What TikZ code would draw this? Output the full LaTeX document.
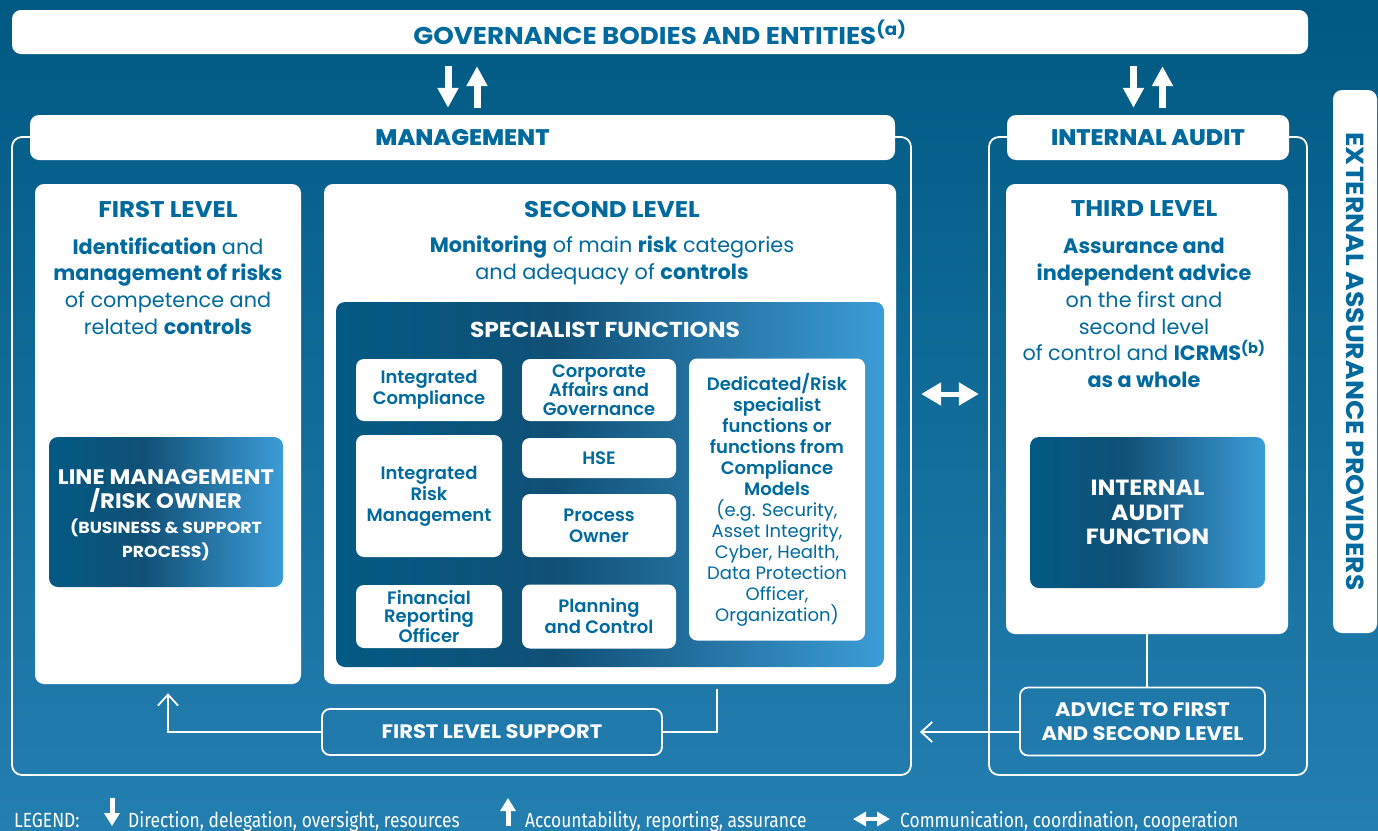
\documentclass[tikz,border=0pt]{standalone}
\usepackage{fontspec}
\setmainfont{Poppins}
\newfontfamily\widefont{Poppins}[FakeStretch=1.08]
\newfontfamily\semib{Poppins SemiBold}
\newfontfamily\heavy{Poppins ExtraBold}[FakeStretch=1.05]
\newfontfamily\legendfont{Fira Sans}[FakeStretch=0.85]
\usetikzlibrary{arrows.meta}

\definecolor{bgtop}{RGB}{0,89,130}
\definecolor{bgbot}{RGB}{36,127,177}
\definecolor{textblue}{RGB}{0,106,158}
\definecolor{shA}{RGB}{2,90,132}
\definecolor{shB}{RGB}{16,80,118}
\definecolor{shC}{RGB}{60,156,214}
\pgfdeclarehorizontalshading{levelshade}{100bp}{color(0bp)=(shA); color(25bp)=(shA); color(45bp)=(shB); color(75bp)=(shC); color(100bp)=(shC)}
\newcommand{\regline}{\normalfont\fontsize{18}{21}\selectfont}
\newcommand{\smallcaps}{\widefont\bfseries\fontsize{16}{24.5}\selectfont}

\begin{document}
\begin{tikzpicture}[x=1pt,y=-1pt,
    panel/.style={fill=white, rounded corners=9pt, inner sep=0pt},
    frame/.style={draw=white, line width=1.8pt, rounded corners=10pt, inner sep=0pt},
    header/.style={panel, text=textblue, font=\heavy\fontsize{22.5}{24}\selectfont},
    title/.style={text=textblue, font=\widefont\bfseries\fontsize{22.7}{24}\selectfont},
    body/.style={text=textblue, align=center, font=\fontsize{20.8}{26.8}\selectfont},
    gradbox/.style={shading=levelshade, rounded corners=9pt, text=white, align=center, font=\widefont\bfseries\fontsize{21.5}{24.5}\selectfont},
    func/.style={panel, rounded corners=8pt, text=textblue, align=center, font=\semib\fontsize{18}{21}\selectfont},
    tight/.style={font=\semib\fontsize{18}{18.5}\selectfont},
    outline/.style={draw=white, line width=1.8pt, rounded corners=8pt, text=white, align=center, font=\widefont\bfseries\fontsize{19.5}{24}\selectfont},
    conn/.style={draw=white, line width=1.8pt},
    openarrow/.style={conn, -{Straight Barb[length=11pt,width=20pt,line width=1.8pt]}},
    bigarrow/.style={draw=white, line width=7pt, -{Triangle[length=20pt,width=20pt]}},
    dblarrow/.style={draw=white, line width=5pt, {Triangle[length=20pt,width=22pt]}-{Triangle[length=20pt,width=22pt]}},
    legend/.style={text=white, anchor=base west, inner sep=0pt, font=\legendfont\fontsize{20.5}{22}\selectfont},
    legarrow/.style={draw=white, line width=5pt, -{Triangle[length=13pt,width=15pt]}},
  ]
    \useasboundingbox (0,0) rectangle (1378,830);
    \shade[top color=bgtop, bottom color=bgbot] (0,0) rectangle (1378,830);

    % outer frames
    \node[frame, minimum width=899, minimum height=638] (mframe) at (461.5,456) {};
    \node[frame, minimum width=318, minimum height=638] (iaframe) at (1148,456) {};

    % top row
    \node[panel, minimum width=1296, minimum height=44, text=textblue, font=\widefont\bfseries\fontsize{24.2}{26}\selectfont] (gov) at (660,32) {GOVERNANCE BODIES AND ENTITIES\textsuperscript{(a)}};
    \node[header, minimum width=865, minimum height=45] (mgmt) at (462.5,137.5) {MANAGEMENT};
    \node[header, minimum width=282, minimum height=45] (ia) at (1148,137.5) {INTERNAL AUDIT};
    \node[panel, rotate=-90, minimum width=543, minimum height=44, text=textblue, font=\widefont\bfseries\fontsize{24.7}{26}\selectfont] (ext) at (1355,361.5) {EXTERNAL ASSURANCE PROVIDERS};

    % levels
    \node[panel, minimum width=266, minimum height=500] (first) at (168,434) {};
    \node[panel, minimum width=572, minimum height=500] (second) at (610,434) {};
    \node[panel, minimum width=282, minimum height=450] (third) at (1147,409) {};

    \node[title] (t1) at (168,209) {FIRST LEVEL};
    \node[title] (t2) at (612,209) {SECOND LEVEL};
    \node[title] (t3) at (1144,209) {THIRD LEVEL};

    \node[body] (b1) at (168,286) {\textbf{Identification} and\\\textbf{management of risks}\\of competence and\\related \textbf{controls}};
    \node[body] (b2) at (612,260) {\textbf{Monitoring} of main \textbf{risk} categories\\and adequacy of \textbf{controls}};
    \node[body] (b3) at (1144,313) {\textbf{Assurance and}\\\textbf{independent advice}\\on the first and\\second level\\of control and \textbf{ICRMS}\textsuperscript{\textbf{(b)}}\\\textbf{as a whole}};

    \node[gradbox, minimum width=234, minimum height=150] (owner) at (166,512) {};
    \node[text=white, align=center, font=\widefont\bfseries\fontsize{21}{24.5}\selectfont] (ot) at (166,515) {LINE MANAGEMENT\\/RISK OWNER\\\smallcaps(BUSINESS \& SUPPORT\\\smallcaps PROCESS)};
    \node[gradbox, minimum width=235, minimum height=151, font=\widefont\bfseries\fontsize{22}{24.5}\selectfont] (iafunc) at (1147.5,512.5) {INTERNAL\\AUDIT\\FUNCTION};

    % specialist functions
    \node[gradbox, minimum width=548, minimum height=365] (spec) at (610,484.5) {};
    \node[text=white, font=\widefont\bfseries\fontsize{21.6}{24}\selectfont] (st) at (605,330) {SPECIALIST FUNCTIONS};
    \node[func, minimum width=146, minimum height=62] (ic) at (429,390) {Integrated\\Compliance};
    \node[func, minimum width=146, minimum height=122] (irm) at (429,496) {Integrated\\Risk\\Management};
    \node[func, tight, minimum width=146, minimum height=63] (fro) at (429,616.5) {Financial\\Reporting\\Officer};
    \node[func, tight, minimum width=154, minimum height=62] (cag) at (599,390) {Corporate\\Affairs and\\Governance};
    \node[func, minimum width=154, minimum height=40] (hse) at (599,458) {HSE};
    \node[func, minimum width=154, minimum height=63] (po) at (599,525.5) {Process\\Owner};
    \node[func, minimum width=154, minimum height=64] (pc) at (599,616.5) {Planning\\and Control};
    \node[func, minimum width=176, minimum height=282] (ded) at (777,499.5) {Dedicated/Risk\\specialist\\functions or\\functions from\\Compliance\\Models\\\regline(e.g. Security,\\\regline Asset Integrity,\\\regline Cyber, Health,\\\regline Data Protection\\\regline Officer,\\\regline Organization)};

    % support boxes
    \node[outline, minimum width=340, minimum height=46] (support) at (492,732) {FIRST LEVEL SUPPORT};
    \node[outline, minimum width=245, minimum height=68] (advice) at (1142.5,721.5) {ADVICE TO FIRST\\AND SECOND LEVEL};

    % arrows between bodies
    \coordinate (mgL) at ([xshift=-14.5pt]mgmt.north);
    \coordinate (mgR) at ([xshift=14.5pt]mgmt.north);
    \coordinate (iaL) at ([xshift=-14.5pt]ia.north);
    \coordinate (iaR) at ([xshift=14.5pt]ia.north);
    \draw[bigarrow, shorten <=12pt, shorten >=7pt] (gov.south -| mgL) -- (mgL);
    \draw[bigarrow, shorten <=7pt, shorten >=12pt] (mgR) -- (gov.south -| mgR);
    \draw[bigarrow, shorten <=12pt, shorten >=7pt] (gov.south -| iaL) -- (iaL);
    \draw[bigarrow, shorten <=7pt, shorten >=12pt] (iaR) -- (gov.south -| iaR);
    \draw[dblarrow, shorten <=25pt, shorten >=27pt] ([yshift=40pt]second.east) -- ([yshift=40pt]second.east -| third.west);

    % support lines
    \coordinate (s2) at ([xshift=107pt,yshift=-5pt]second.south);
    \draw[conn] (s2) |- (support.east);
    \draw[openarrow, shorten >=9pt] (support.west) -| (first.south);
    \draw[conn] (third.south) -- (third.south |- advice.north);
    \draw[openarrow, shorten >=8pt] ([yshift=-10.5pt]advice.west) -- ([yshift=-10.5pt]advice.west -| mframe.east);

    % legend
    \node[legend] (leg) at (14,827) {LEGEND:};
    \node[legend] (leg1) at (128,827) {Direction, delegation, oversight, resources};
    \node[legend] (leg2) at (525,827) {Accountability, reporting, assurance};
    \node[legend] (leg3) at (900,827) {Communication, coordination, cooperation};
    \draw[legarrow] (112,798) -- (112,826);
    \draw[legarrow] (508,826) -- (508,798);
    \draw[legarrow, line width=4pt, {Triangle[length=13pt,width=14pt]}-{Triangle[length=13pt,width=14pt]}] (853,819) -- (890,819);
\end{tikzpicture}
\end{document}
